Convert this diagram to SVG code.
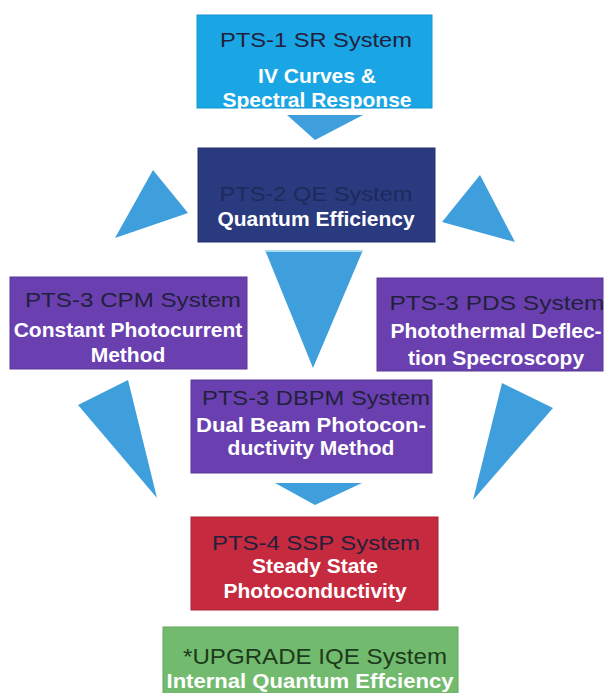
<svg xmlns="http://www.w3.org/2000/svg" width="605" height="693" viewBox="0 0 605 693">
<style>
.box{stroke-width:1}
.t{font-family:"Liberation Sans",Arial,sans-serif;font-size:21px;fill:#22203c;text-anchor:middle}
.s{font-family:"Liberation Sans",Arial,sans-serif;font-size:21px;font-weight:bold;fill:#ffffff;text-anchor:middle}
.arr{fill:#3f9fdd}
</style>
<rect width="605" height="693" fill="#ffffff"/>
<g id="connectors">
<polygon class="arr" points="287,115 363,115 315,140"/>
<polygon class="arr" points="153,170 188,213 115,238"/>
<polygon class="arr" points="480,175 442,222 515,242"/>
<polygon class="arr" points="265,250 363,250 313,368"/>
<line x1="265" y1="251" x2="363" y2="251" stroke="#a8dcf0" stroke-width="2"/>
<polygon class="arr" points="78,405 128,380 157,498"/>
<polygon class="arr" points="502,383 553,408 473,500"/>
<polygon class="arr" points="275,483 362,483 315,505"/>
</g>
<g id="pts1">
<rect class="box" x="197" y="15" width="235" height="93" fill="#1aa6e4" stroke="#1596d0"/>
<text class="t" x="316" y="47" textLength="192" lengthAdjust="spacingAndGlyphs">PTS-1 SR System</text>
<text class="s" x="317" y="83">IV Curves &amp;</text>
<text class="s" x="317" y="107">Spectral Response</text>
</g>
<g id="pts2">
<rect class="box" x="198" y="148" width="237" height="94" fill="#2a3a7e" stroke="#22306a"/>
<text class="t" x="316" y="201" textLength="193" lengthAdjust="spacingAndGlyphs" style="fill:#1d2a5c">PTS-2 QE System</text>
<text class="s" x="316" y="226">Quantum Efficiency</text>
</g>
<g id="cpm">
<rect class="box" x="10" y="277" width="237" height="92" fill="#6a40b0" stroke="#5a3698"/>
<text class="t" x="133" y="307" textLength="216" lengthAdjust="spacingAndGlyphs">PTS-3 CPM System</text>
<text class="s" x="128" y="337">Constant Photocurrent</text>
<text class="s" x="128" y="362">Method</text>
</g>
<g id="pds">
<rect class="box" x="377" y="278" width="226" height="93" fill="#6a40b0" stroke="#5a3698"/>
<text class="t" x="497" y="310" textLength="215" lengthAdjust="spacingAndGlyphs">PTS-3 PDS System</text>
<text class="s" x="496" y="338">Photothermal Deflec-</text>
<text class="s" x="496" y="365">tion Specroscopy</text>
</g>
<g id="dbpm">
<rect class="box" x="191" y="380" width="241" height="93" fill="#6a40b0" stroke="#5a3698"/>
<text class="t" x="316" y="405" textLength="228" lengthAdjust="spacingAndGlyphs">PTS-3 DBPM System</text>
<text class="s" x="311" y="432" textLength="230" lengthAdjust="spacingAndGlyphs">Dual Beam Photocon-</text>
<text class="s" x="311" y="455">ductivity Method</text>
</g>
<g id="ssp">
<rect class="box" x="191" y="517" width="247" height="93" fill="#c62a3e" stroke="#a82234"/>
<text class="t" x="316" y="550" textLength="208" lengthAdjust="spacingAndGlyphs">PTS-4 SSP System</text>
<text class="s" x="315" y="573">Steady State</text>
<text class="s" x="315" y="598">Photoconductivity</text>
</g>
<g id="iqe">
<rect class="box" x="163" y="627" width="295" height="70" fill="#72ba6e" stroke="#62a85e"/>
<text class="t" x="315" y="664" textLength="264" lengthAdjust="spacingAndGlyphs" style="font-size:22px;fill:#1c3a1c">*UPGRADE IQE System</text>
<text class="s" x="310" y="688" textLength="287" lengthAdjust="spacingAndGlyphs" style="font-size:21px">Internal Quantum Effciency</text>
</g>
</svg>
